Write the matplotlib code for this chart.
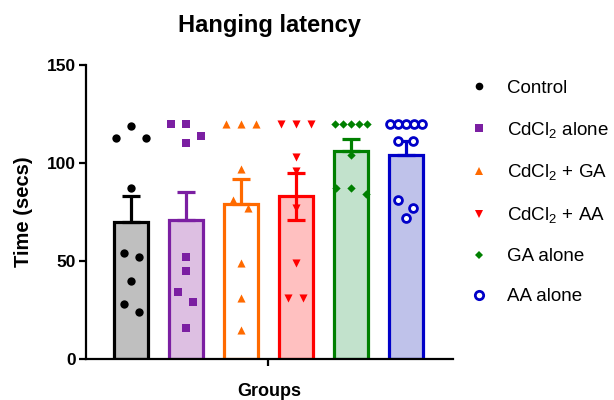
import matplotlib
matplotlib.use("Agg")
import matplotlib.pyplot as plt
from matplotlib.lines import Line2D
import numpy as np

plt.rcParams['font.family'] = ['Liberation Sans', 'DejaVu Sans']
plt.rcParams['mathtext.fontset'] = 'custom'
plt.rcParams['mathtext.rm'] = 'Liberation Sans'
plt.rcParams['mathtext.it'] = 'Liberation Sans'

# ---- data ----
groups = ["Control", r"CdCl$_2$ alone", r"CdCl$_2$ + GA", r"CdCl$_2$ + AA", "GA alone", "AA alone"]
means = [70, 71, 79, 83, 106, 104]
sems = [13, 14, 13, 12, 6, 7]
control = [119, 113, 113, 87, 54, 52, 40, 28, 24]
cdcl2_alone = [120, 120, 114, 110, 52, 45, 34, 29, 16]
cdcl2_ga = [120, 120, 120, 97, 81, 77, 49, 31, 15]
cdcl2_aa = [120, 120, 120, 103, 96, 77, 49, 31, 31]
ga_alone = [120, 120, 120, 120, 120, 104, 87, 87, 84]
aa_alone = [120, 120, 120, 120, 120, 111, 111, 81, 77, 72]
points = [control, cdcl2_alone, cdcl2_ga, cdcl2_aa, ga_alone, aa_alone]
yticks = [0, 50, 100, 150]

# ---- styles ----
edge_colors = ["#000000", "#7B1FA2", "#FF6A00", "#FF0000", "#008000", "#0000C8"]
fill_colors = ["#BFBFBF", "#DDBFE2", "#FFFFFF", "#FFC0C0", "#C2E2CC", "#BFC2EA"]
markers = ["o", "s", "^", "v", "D", "o"]
msizes = [36, 30, 34, 34, 18, 32]
lower_err = [False, False, False, True, False, False]

W, H = 614, 400
fig = plt.figure(figsize=(W / 100, H / 100), dpi=100)
ax_left, ax_right, ax_bot, ax_top = 86 / W, 453 / W, 1 - 359 / H, 1 - 65 / H
ax = fig.add_axes([ax_left, ax_bot, ax_right - ax_left, ax_top - ax_bot])

x = np.arange(len(groups))
xlim = (-0.82, 5.86)
ylim = (0, 150)
ax.set_xlim(*xlim)
ax.set_ylim(*ylim)

ax.bar(x, means, width=0.62, color=fill_colors, edgecolor=edge_colors,
       linewidth=2.3, zorder=2)

for i in range(len(groups)):
    lo = sems[i] if lower_err[i] else 0
    ax.errorbar(x[i], means[i], yerr=[[lo], [sems[i]]], fmt='none',
                ecolor=edge_colors[i], elinewidth=2.3, capsize=6.5,
                capthick=2.3, zorder=3)

# row-binned scatter placement (pixel space)
px_per_x = (ax_right - ax_left) * W / (xlim[1] - xlim[0])
row_bin = 6.5      # values within this range share a row
max_step = 15.0    # px
max_width = 32.0   # px
for i, vals in enumerate(points):
    vs = sorted(vals, reverse=True)
    rows = []
    for v in vs:
        if rows and rows[-1][0] - v < row_bin:
            rows[-1].append(v)
        else:
            rows.append([v])
    xs, ys = [], []
    for row in rows:
        n = len(row)
        step = min(max_step, max_width / (n - 1)) if n > 1 else 0
        slots = [(k - (n - 1) / 2) * step for k in range(n)]
        slots = sorted(slots, key=lambda s: (abs(s), s))
        for v, s in zip(row, slots):
            xs.append(x[i] + s / px_per_x)
            ys.append(v)
    if i == 5:
        ax.scatter(xs, ys, s=msizes[i], marker=markers[i], facecolors='white',
                   edgecolors=edge_colors[i], linewidths=2.0, zorder=4, clip_on=False)
    else:
        ax.scatter(xs, ys, s=msizes[i], marker=markers[i], color=edge_colors[i],
                   linewidths=0, zorder=4, clip_on=False)

for s in ['top', 'right']:
    ax.spines[s].set_visible(False)
for s in ['left', 'bottom']:
    ax.spines[s].set_linewidth(1.6)
ax.set_yticks(yticks)
ax.set_yticklabels([str(t) for t in yticks], fontsize=12.5, fontweight='bold')
ax.set_xticks([np.mean(x)])
ax.set_xticklabels([""])
ax.tick_params(axis='both', width=1.6, length=5, direction='out', pad=2)
ax.set_xlabel("Groups", fontsize=13, fontweight='bold', labelpad=10)
ax.set_ylabel("Time (secs)", fontsize=14.5, fontweight='bold', labelpad=10)
ax.set_title("Hanging latency", fontsize=17, fontweight='bold', pad=24)

handles = []
for i in range(len(groups)):
    if i == 5:
        h = Line2D([], [], linestyle='none', marker=markers[i], markersize=6,
                   markerfacecolor='white', markeredgecolor=edge_colors[i], markeredgewidth=2.0)
    else:
        h = Line2D([], [], linestyle='none', marker=markers[i],
                   markersize=5.5 if i != 4 else 4.5,
                   markerfacecolor=edge_colors[i], markeredgecolor=edge_colors[i], markeredgewidth=0)
    handles.append(h)
leg = fig.legend(handles, groups, loc='upper left', bbox_to_anchor=(460 / W, 1 - 72 / H),
                 frameon=False, fontsize=13.5, handlelength=1.2, handletextpad=0.9,
                 labelspacing=1.22, borderaxespad=0)

fig.savefig("out.png", dpi=100)
